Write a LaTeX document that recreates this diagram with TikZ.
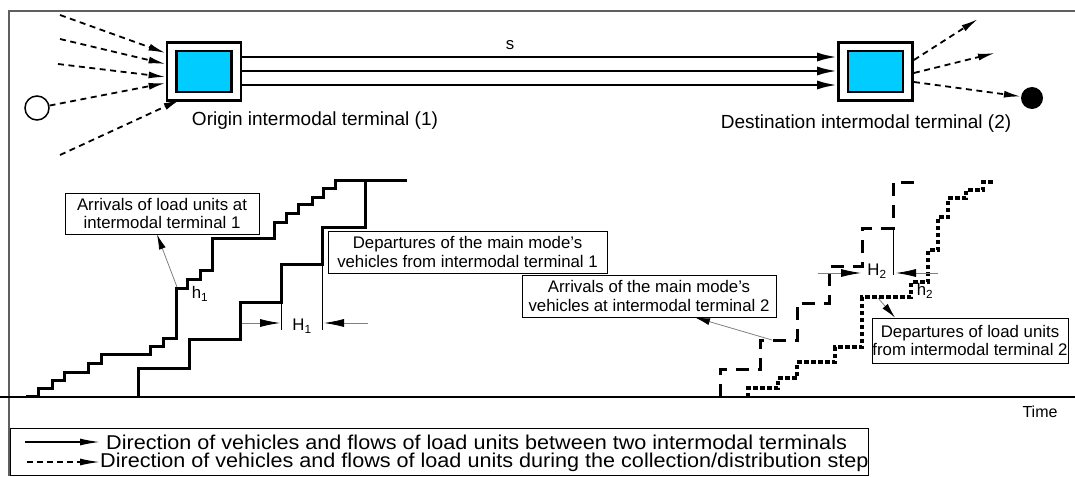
\documentclass[tikz,border=0pt]{standalone}
\usepackage{fontspec}
\setmainfont{Liberation Sans}
\usepackage{tikz}
\usetikzlibrary{arrows.meta,calc,positioning}

\definecolor{termcyan}{RGB}{0,204,255}
\definecolor{framegray}{RGB}{95,95,95}

\begin{document}
\begin{tikzpicture}[x=1pt,y=-1pt,>={Latex[length=20pt,width=9pt]},font=\fontsize{16.8}{18.5}\selectfont]
	\tikzstyle{outerbox} = [draw, rectangle, line width=2.8pt, fill=white, minimum width=74pt, minimum height=58pt, inner sep=0pt]
	\tikzstyle{innerbox} = [draw, rectangle, line width=2.8pt, fill=termcyan, minimum width=55pt, minimum height=41pt, inner sep=0pt]
	\tikzstyle{labelbox} = [draw, rectangle, line width=0.9pt, align=center, inner sep=0pt, fill=white]
	\tikzstyle{flow} = [->, line width=2.5pt]
	\tikzstyle{feeder} = [-{Latex[length=17pt,width=7pt]}, line width=1.8pt, dash pattern=on 6pt off 4.5pt]
	\tikzstyle{stairs} = [line width=3pt]
	\tikzstyle{guide} = [draw=gray, line width=0.8pt]
	\tikzstyle{gap} = [guide, -{Latex[length=20pt,width=8pt,color=black]}]
	\tikzstyle{pointer} = [guide, -{Latex[length=15pt,width=7pt,color=black]}]
	\tikzstyle{bigtext} = [font=\fontsize{19}{21}\selectfont]
	\tikzstyle{legtext} = [inner sep=0pt, font=\fontsize{20}{22}\selectfont]

	\useasboundingbox (0,0) rectangle (1075,476);

	% frame and time axis
	\draw [draw=framegray, line width=2pt] (8,11) -- (1075,11);
	\draw [draw=framegray, line width=2pt] (9,11) -- (9,476);
	\draw [line width=1.8pt] (0,397) -- (1075,397);

	% terminals
	\node [outerbox] (t1) at (204,71.5) {};
	\node [innerbox] (t1in) at (t1.center) {};
	\node [outerbox] (t2) at (875.5,71.5) {};
	\node [innerbox] (t2in) at (t2.center) {};
	\node [bigtext] (orig) at (315,121) {Origin intermodal terminal (1)};
	\node [bigtext] (dest) at (866,124) {Destination intermodal terminal (2)};

	\draw [flow] ([yshift=14.5pt]t1.east) -- ([yshift=14.5pt]t2.west);
	\draw [flow] ([yshift=0.5pt]t1.east) -- ([yshift=0.5pt]t2.west);
	\draw [flow] ([yshift=-13.5pt]t1.east) -- ([yshift=-13.5pt]t2.west);
	\node (s) at (510,45) {s};

	% collection
	\node [coordinate] (f1) at (60,15) {};
	\node [coordinate] (f2) at (60,39) {};
	\node [coordinate] (f3) at (58,64) {};
	\node [draw, circle, line width=1.5pt, minimum size=24pt, inner sep=0pt] (o1) at (37,108) {};
	\node [coordinate] (f5) at (60,155) {};
	\draw [feeder] (f1) -- ([yshift=18.5pt]t1.west);
	\draw [feeder] (f2) -- ([yshift=7.5pt]t1.west);
	\draw [feeder] (f3) -- ([yshift=-5.5pt]t1.west);
	\draw [feeder] (o1) -- ([yshift=-11.5pt]t1.west);
	\draw [feeder] (f5) -- ([xshift=15pt,yshift=2.5pt]t1.south west);

	% distribution
	\node [coordinate] (g1) at (978,19) {};
	\node [coordinate] (g2) at (995,53) {};
	\node [circle, fill, minimum size=22pt, inner sep=0pt] (d1) at (1032,98) {};
	\draw [feeder] ([yshift=11.5pt]t2.east) -- (g1);
	\draw [feeder] ([yshift=-1.5pt]t2.east) -- (g2);
	\draw [feeder] ([yshift=-10.5pt]t2.east) -- (d1);

	% cumulative curves at terminal 1
	\draw [stairs] (26,396) -| (38,388) -| (52,380) -| (64,372) -| (88,363) -| (101,354) -| (150,346) -| (163,338) -| (176,288) -| (187,279) -| (200,270) -| (212,238) -| (274,222) -| (286,213) -| (298,204) -| (312,197) -| (323,188) -| (335,180) -- (365,180);
	\draw [stairs] (138,397) -- (138,368) -| (189,339) -| (240,302) -| (281,264) -| (322,227) -| (365,180) -- (407,180);
	\draw [line width=1pt] (281,302) -- (281,330);
	\draw [line width=1pt] (322,264) -- (322,330);

	% cumulative curves at terminal 2
	\draw [stairs, dash pattern=on 13pt off 9pt] (720,397) -- (720,369) -| (760,340) -| (797,303) -| (829,266) -| (862,228) -| (893,182) -- (920,182);
	\draw [stairs, line width=4pt, dash pattern=on 4.5pt off 2.5pt] (748,397) -- (748,388) -| (778,378) -| (797,362) -| (835,347) -| (862,297) -| (911,282) -| (928,250) -| (938,217) -| (948,198) -| (966,190) -| (983,182) -- (993,182);
	\draw [line width=1pt] (893,228) -- (893,275);

	% labels
	\node [labelbox, minimum width=194pt, minimum height=41pt] (b1) at (162,213.5) {Arrivals of load units at\\intermodal terminal 1};
	\node [labelbox, minimum width=279pt, minimum height=42pt] (b2) at (467.5,252) {Departures of the main mode's\\vehicles from intermodal terminal 1};
	\node [labelbox, minimum width=254pt, minimum height=42pt] (b3) at (649,296) {Arrivals of the main mode's\\vehicles at intermodal terminal 2};
	\node [labelbox, minimum width=196pt, minimum height=45pt] (b4) at (970,340.5) {Departures of load units\\from intermodal terminal 2};

	\node [coordinate] (pA) at (177,287) {};
	\node [coordinate] (pB) at (772,340) {};
	\node [coordinate] (pC) at (878,298) {};
	\draw [pointer] (pA) -- ([xshift=-5pt]b1.south);
	\draw [pointer] (pB) -- ([xshift=46pt]b3.south);
	\draw [pointer] (pC) -- ([xshift=-75pt]b4.north);

	\node [coordinate] (hA) at (242,323) {};
	\node [coordinate] (hB) at (280,323) {};
	\node [coordinate] (hC) at (368,323) {};
	\node [coordinate] (hD) at (324,323) {};
	\draw [gap] (hA) -- (hB);
	\draw [gap] (hC) -- (hD);
	\node [coordinate] (hE) at (818,273) {};
	\node [coordinate] (hF) at (861,273) {};
	\node [coordinate] (hG) at (938,273) {};
	\node [coordinate] (hH) at (896,273) {};
	\draw [gap] (hE) -- (hF);
	\draw [gap] (hG) -- (hH);

	\node (h1) at (200,294) {h\textsubscript{1}};
	\node (H1) at (302,326) {H\textsubscript{1}};
	\node (H2) at (877,271) {H\textsubscript{2}};
	\node (h2) at (925,291) {h\textsubscript{2}};
	\node [font=\fontsize{16}{18}\selectfont] (time) at (1040,412) {Time};

	% legend
	\node [draw, line width=1pt, minimum width=858pt, minimum height=47pt, inner sep=0pt] (leg) at (439,451.5) {};
	\node [coordinate] (lA) at (25,442) {};
	\node [coordinate] (lB) at (100,442) {};
	\node [coordinate] (lC) at (27,462) {};
	\node [coordinate] (lD) at (100,462) {};
	\draw [line width=1.5pt, -{Latex[length=20pt,width=7pt]}] (lA) -- (lB);
	\draw [line width=1.5pt, dash pattern=on 6pt off 4pt, -{Latex[length=20pt,width=7pt]}] (lC) -- (lD);
	\node [legtext, right=6pt of lB] (legA) {\scalebox{1.08}[1]{Direction of vehicles and flows of load units between two intermodal terminals}};
	\node [legtext, right=0pt of lD] (legB) {\scalebox{1.08}[1]{Direction of vehicles and flows of load units during the collection/distribution step}};
\end{tikzpicture}
\end{document}
